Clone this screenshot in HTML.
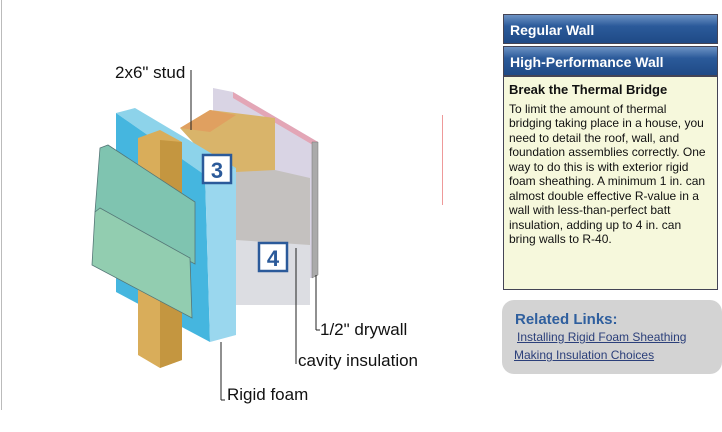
<!DOCTYPE html>
<html><head><style>
body{margin:0;width:722px;height:432px;background:#fff;position:relative;font-family:"Liberation Sans",sans-serif;overflow:hidden}
.hd{position:absolute;left:503px;width:215px;color:#fff;font-weight:bold;font-size:14px;padding-left:6px;box-sizing:border-box;background:linear-gradient(#6d93c4,#2b5a9a 40%,#1f4a86);border:1px solid #445;}
.lbl{position:absolute;font-size:17px;color:#111}
</style></head><body>
<div style="position:absolute;left:1px;top:0;width:1px;height:410px;background:#bbb"></div>
<div style="position:absolute;left:442px;top:115px;width:1px;height:90px;background:#e99"></div>
<svg width="722" height="432" style="position:absolute;left:0;top:0">
<polygon points="213,88 233,92 318,142 312,278 213,275" fill="#d9d4e4"/>
<polygon points="233,92 318,142 318,148 233,98" fill="#e3a6b6"/>
<polygon points="312,142 318,142 318,275 312,278" fill="#aaa" stroke="#777" stroke-width="0.5"/>
<polygon points="180,128 210,110 275,118 275,205 230,205 200,150" fill="#d9b46a"/>
<polygon points="180,128 210,110 236,115 210,132" fill="#e0a060"/>
<polygon points="236,172 275,170 310,178 310,305 236,305" fill="#c4c1bf"/>
<polygon points="236,240 310,245 310,305 236,305" fill="#dcdde2"/>
<polygon points="116,113 135,108 236,168 205,175" fill="#8dd3ea"/>
<polygon points="116,113 205,175 210,342 116,292" fill="#45b6df"/>
<polygon points="205,175 236,168 236,335 210,342" fill="#9ad7ee"/>
<polygon points="138,138 160,130 182,142 182,360 160,368 138,355" fill="#d9ad5a"/>
<polygon points="160,140 182,142 182,360 160,368" fill="#c49640"/>
<polygon points="100,148 108,145 195,202 195,264 95,212" fill="#7fc4b0" stroke="#577" stroke-width="0.8"/>
<polygon points="95,212 100,208 190,258 192,318 92,265" fill="#92cdb0" stroke="#577" stroke-width="0.8"/>
<g stroke="#222" stroke-width="1" fill="none">
<line x1="191" y1="70" x2="191" y2="130"/>
<line x1="316" y1="275" x2="316" y2="330"/><line x1="316" y1="330" x2="320" y2="330"/>
<line x1="296" y1="248" x2="296" y2="364"/>
<line x1="221" y1="342" x2="221" y2="400"/><line x1="221" y1="400" x2="225" y2="400"/>
</g>
<rect x="203" y="155" width="28" height="28" fill="#fff" stroke="#2b5a9a" stroke-width="2.5"/>
<text x="217" y="178" font-size="22" font-weight="bold" fill="#2b5a9a" text-anchor="middle" font-family="Liberation Sans">3</text>
<rect x="259" y="243" width="28" height="28" fill="#fff" stroke="#2b5a9a" stroke-width="2.5"/>
<text x="273" y="266" font-size="22" font-weight="bold" fill="#2b5a9a" text-anchor="middle" font-family="Liberation Sans">4</text>
</svg>
<div class="lbl" style="left:115px;top:63px">2x6" stud</div>
<div class="lbl" style="left:320px;top:320px">1/2" drywall</div>
<div class="lbl" style="left:298px;top:351px">cavity insulation</div>
<div class="lbl" style="left:227px;top:385px">Rigid foam</div>
<div class="hd" style="top:14px;height:30px;line-height:30px">Regular Wall</div>
<div class="hd" style="top:46px;height:30px;line-height:30px">High-Performance Wall</div>
<div style="position:absolute;left:503px;top:76px;width:215px;height:214px;box-sizing:border-box;background:#f6f8dc;border:1px solid #445;padding:6px 2px 6px 5px;font-size:12px;line-height:14.5px;color:#111;white-space:nowrap;overflow:hidden">
<div style="font-weight:bold;font-size:13px;margin-bottom:4px">Break the Thermal Bridge</div>
To limit the amount of thermal<br>bridging taking place in a house, you<br>need to detail the roof, wall, and<br>foundation assemblies correctly. One<br>way to do this is with exterior rigid<br>foam sheathing. A minimum 1 in. can<br>almost double effective R-value in a<br>wall with less-than-perfect batt<br>insulation, adding up to 4 in. can<br>bring walls to R-40.</div>
<div style="position:absolute;left:502px;top:300px;width:220px;height:74px;background:#d3d3d3;border-radius:12px;font-size:12px;color:#2b3f7a">
<div style="position:absolute;left:13px;top:11px;font-weight:bold;font-size:15px;color:#2f5f9e">Related Links:</div>
<div style="position:absolute;left:15px;top:30px;text-decoration:underline">Installing Rigid Foam Sheathing</div>
<div style="position:absolute;left:12px;top:48px;text-decoration:underline">Making Insulation Choices</div>
</div>
</body></html>
